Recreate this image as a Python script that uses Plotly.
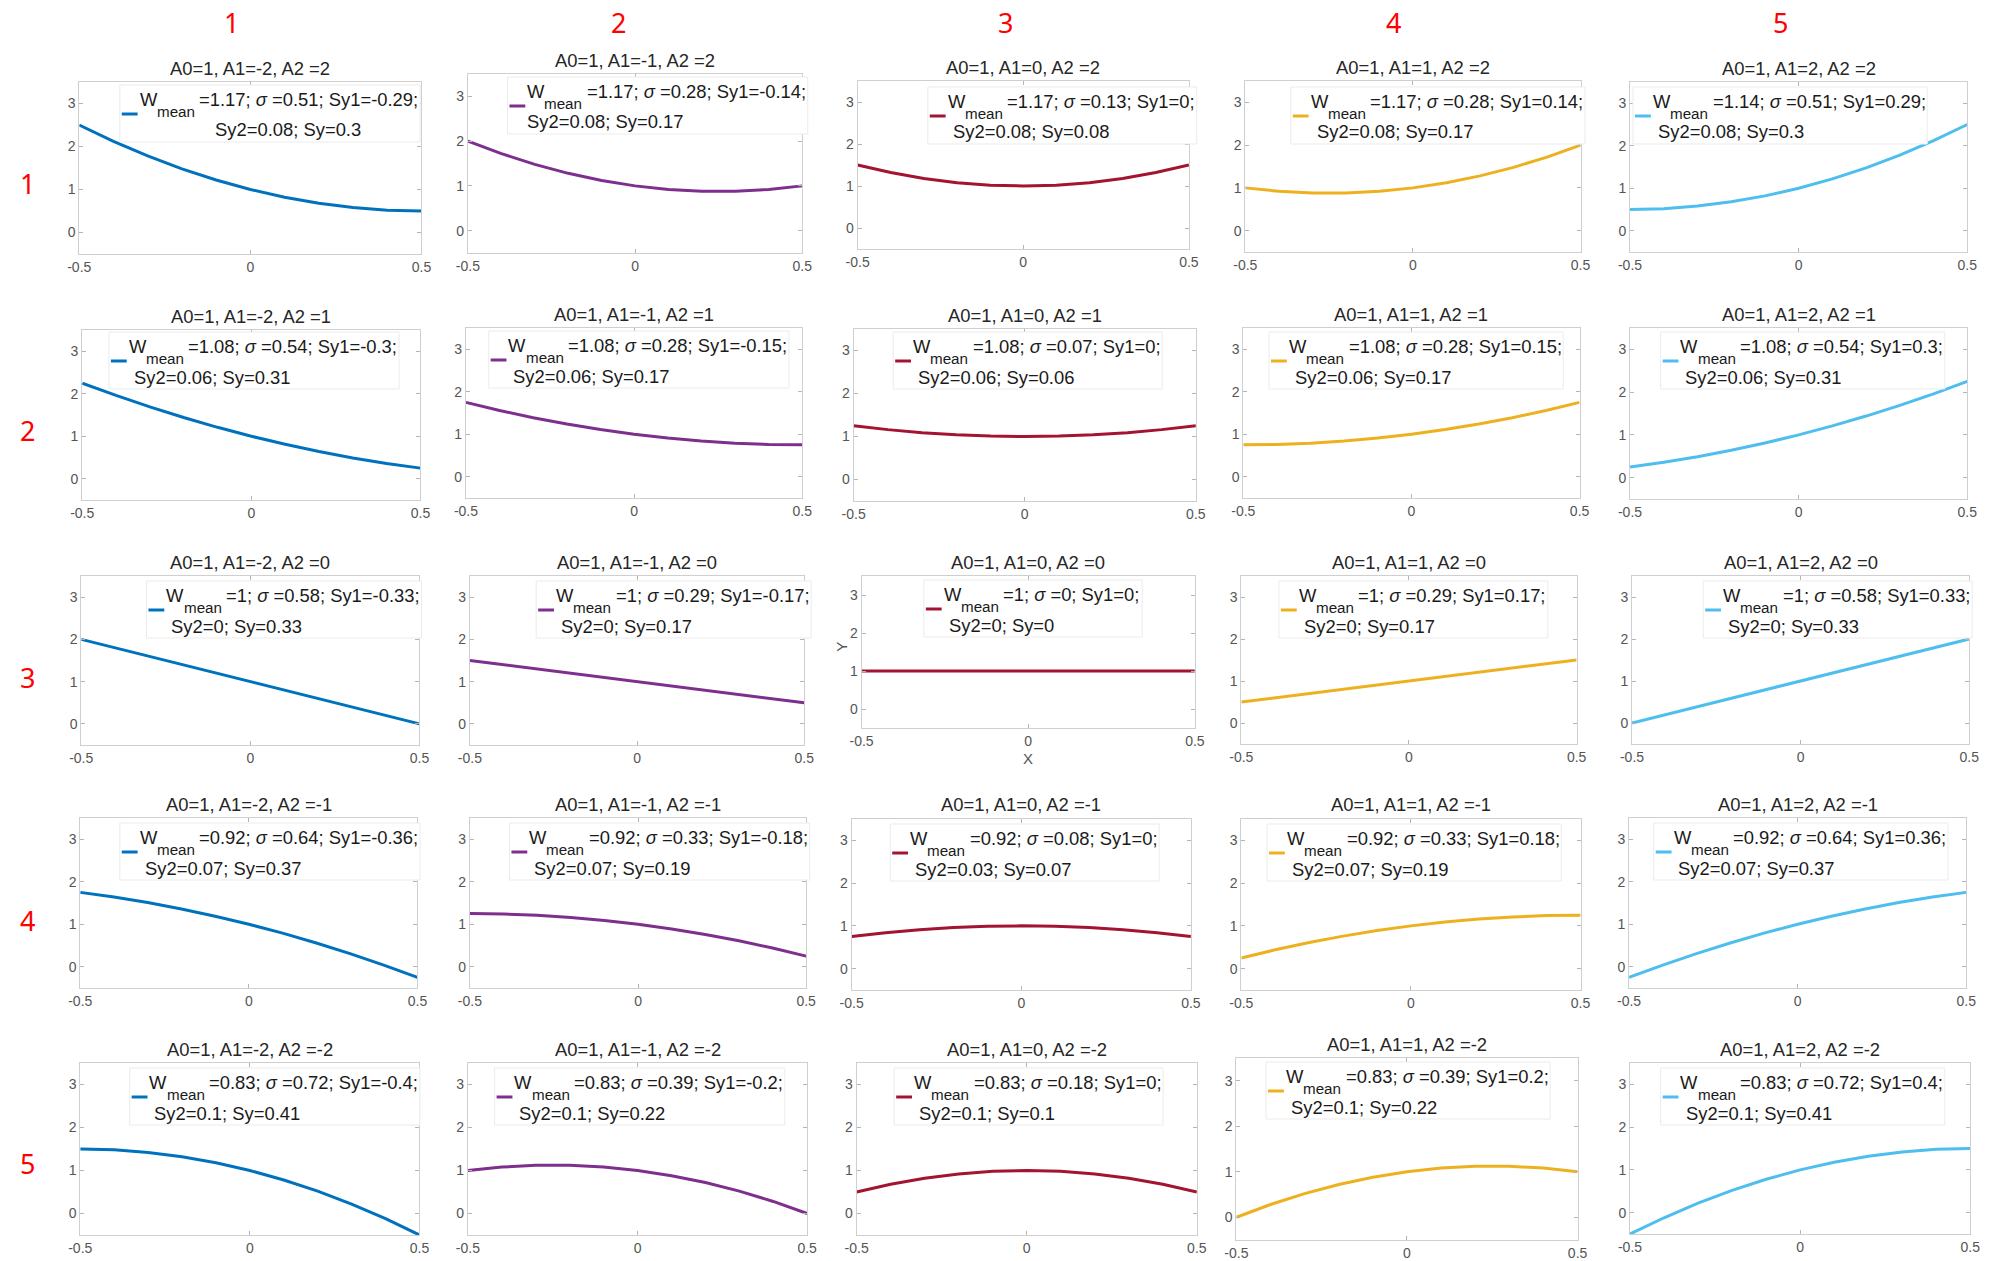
import re
import plotly.graph_objects as go

# ---------------------------------------------------------------- data
A0 = 1
A1_VALUES = [-2, -1, 0, 1, 2]          # one per column
A2_VALUES = [2, 1, 0, -1, -2]          # one per row
X_SAMPLES = [-0.5, -0.4, -0.3, -0.2, -0.1, 0.0, 0.1, 0.2, 0.3, 0.4, 0.5]

W_MEAN = [
    [1.17, 1.17, 1.17, 1.17, 1.14],
    [1.08, 1.08, 1.08, 1.08, 1.08],
    [1, 1, 1, 1, 1],
    [0.92, 0.92, 0.92, 0.92, 0.92],
    [0.83, 0.83, 0.83, 0.83, 0.83],
]
SIGMA = [
    [0.51, 0.28, 0.13, 0.28, 0.51],
    [0.54, 0.28, 0.07, 0.28, 0.54],
    [0.58, 0.29, 0, 0.29, 0.58],
    [0.64, 0.33, 0.08, 0.33, 0.64],
    [0.72, 0.39, 0.18, 0.39, 0.72],
]
SY1 = [
    [-0.29, -0.14, 0, 0.14, 0.29],
    [-0.3, -0.15, 0, 0.15, 0.3],
    [-0.33, -0.17, 0, 0.17, 0.33],
    [-0.36, -0.18, 0, 0.18, 0.36],
    [-0.4, -0.2, 0, 0.2, 0.4],
]
SY2 = [
    [0.08, 0.08, 0.08, 0.08, 0.08],
    [0.06, 0.06, 0.06, 0.06, 0.06],
    [0, 0, 0, 0, 0],
    [0.07, 0.07, 0.03, 0.07, 0.07],
    [0.1, 0.1, 0.1, 0.1, 0.1],
]
SY = [
    [0.3, 0.17, 0.08, 0.17, 0.3],
    [0.31, 0.17, 0.06, 0.17, 0.31],
    [0.33, 0.17, 0, 0.17, 0.33],
    [0.37, 0.19, 0.07, 0.19, 0.37],
    [0.41, 0.22, 0.1, 0.22, 0.41],
]
GRID_LABELS = ["1", "2", "3", "4", "5"]

# ---------------------------------------------------------------- style / layout
COLORS = ["#0072BD", "#7E2F8E", "#A2142F", "#EDB120", "#4DBEEE"]
W, H = 2002, 1261
FONT = "Liberation Sans, Arial, Helvetica, sans-serif"
TXT = 18.4
SUBTXT = 15.2

# panel boxes in page pixels: (left, right, top, bottom)
PANEL_BOX = [
    [(68, 414, 82, 254), (461, 799, 74, 253), (855, 1190, 81, 249), (1247, 1586, 81, 252), (1636, 1977, 82, 252)],
    [(71, 413, 330, 500), (459, 799, 328, 498), (851, 1197, 329, 501), (1245, 1585, 328, 498), (1636, 1977, 328, 499)],
    [(70, 412, 576, 745), (463, 801, 576, 745), (859, 1196, 576, 728), (1243, 1582, 576, 744), (1638, 1979, 576, 744)],
    [(69, 410, 818, 988), (463, 803, 818, 988), (849, 1192, 819, 990), (1243, 1586, 819, 990), (1635, 1976, 818, 988)],
    [(69, 412, 1063, 1235), (461, 804, 1063, 1235), (854, 1198, 1063, 1235), (1238, 1583, 1058, 1240), (1636, 1980, 1063, 1234)],
]
# legend placement inside each panel: sample offset from panel left, box offset from panel top
LEG_DX = [[43, 42, 73, 48, 5], [29, 25, 42, 28, 33], [68, 69, 65, 40, 74],
          [42, 42, 41, 28, 27], [52, 29, 40, 32, 33]]
LEG_DY = [[3, 3, 6, 6, 5], [2, 3, 3, 4, 4], [5, 5, 4, 5, 5],
          [5, 5, 5, 5, 5], [5, 5, 5, 4, 5]]
LINE2_INDENT = [[76, 0, 5, 6, 5], [5, 5, 5, 6, 5], [5, 5, 5, 5, 5],
                [5, 5, 5, 5, 5], [5, 5, 5, 5, 6]]

COL_LABEL_X = [222, 613, 1005, 1397, 1788]
ROW_LABEL_Y = [183, 430, 677, 920, 1163]

# Arial advance widths (em) for estimating legend box widths
EM = {c: 0.556 for c in "0123456789"}
EM.update({".": 0.278, ";": 0.278, " ": 0.278, "=": 0.584, "-": 0.333,
           "S": 0.667, "y": 0.5, "σ": 0.6, ",": 0.278})


def text_width(s, size):
    plain = re.sub(r"<[^>]+>", "", s)
    return sum(EM.get(ch, 0.556) for ch in plain) * size


def px(x):
    return x / W


def py(y):
    return 1 - y / H


def fmt(v):
    return f"{v:g}"


fig = go.Figure()
layout_axes = {}
annotations = []
shapes = []

for r, a2 in enumerate(A2_VALUES):
    for c, a1 in enumerate(A1_VALUES):
        idx = r * 5 + c + 1
        sfx = "" if idx == 1 else str(idx)
        l, rt, t, b = PANEL_BOX[r][c]
        color = COLORS[c]

        y_vals = [A0 + a1 * x + a2 * x * x for x in X_SAMPLES]
        fig.add_trace(go.Scatter(
            x=X_SAMPLES, y=y_vals, mode="lines",
            line=dict(color=color, width=3),
            xaxis="x" + sfx, yaxis="y" + sfx,
            showlegend=False, hoverinfo="x+y",
        ))

        common = dict(
            showline=True, linecolor="#cfcfcf", linewidth=1, mirror="ticks",
            ticks="inside", ticklen=4, tickcolor="#b5b5b5", tickwidth=1,
            showgrid=False, zeroline=False,
            tickfont=dict(family=FONT, size=14, color="#555555"),
        )
        layout_axes["xaxis" + sfx] = dict(
            domain=[px(l), px(rt)], range=[-0.5, 0.5],
            tickvals=[-0.5, 0, 0.5], ticktext=["-0.5", "0", "0.5"],
            anchor="y" + sfx, **common)
        layout_axes["yaxis" + sfx] = dict(
            domain=[py(b), py(t)], range=[-0.5, 3.5],
            tickvals=[0, 1, 2, 3], ticktext=["0", "1", "2", "3"],
            anchor="x" + sfx, **common)

        # panel title
        annotations.append(dict(
            text=f"A0={A0}, A1={a1}, A2 ={a2}",
            x=px((l + rt) / 2), y=py(t - 14), xref="paper", yref="paper",
            xanchor="center", yanchor="middle", showarrow=False,
            font=dict(family=FONT, size=TXT, color="#262626")))

        # legend: sample line + two text lines inside a framed white box
        sl = l + LEG_DX[r][c]
        bt = t + LEG_DY[r][c]
        wx = sl + 17
        rest_x = wx + 17.4 + 38 + 5
        rest = (f"={fmt(W_MEAN[r][c])}; <i>σ</i> ={fmt(SIGMA[r][c])}; "
                f"Sy1={fmt(SY1[r][c])};")
        line2 = f"Sy2={fmt(SY2[r][c])}; Sy={fmt(SY[r][c])}"
        l2x = wx + LINE2_INDENT[r][c]
        box_r = max(rest_x + text_width(rest, TXT), l2x + text_width(line2, TXT)) + 5

        shapes.append(dict(
            type="rect", xref="paper", yref="paper",
            x0=px(sl - 2), x1=px(box_r), y0=py(bt + 57), y1=py(bt),
            line=dict(color="#ebebeb", width=1), fillcolor="white", layer="above"))
        shapes.append(dict(
            type="line", xref="paper", yref="paper",
            x0=px(sl), x1=px(sl + 16), y0=py(bt + 29), y1=py(bt + 29),
            line=dict(color=color, width=3), layer="above"))

        tfont = dict(family=FONT, size=TXT, color="#1a1a1a")
        annotations.append(dict(
            text="W", x=px(wx), y=py(bt + 14.5), xref="paper", yref="paper",
            xanchor="left", yanchor="middle", showarrow=False, borderpad=0,
            font=tfont))
        annotations.append(dict(
            text="mean", x=px(wx + 17.4), y=py(bt + 26.7), xref="paper", yref="paper",
            xanchor="left", yanchor="middle", showarrow=False, borderpad=0,
            font=dict(family=FONT, size=SUBTXT, color="#1a1a1a")))
        annotations.append(dict(
            text=rest, x=px(rest_x), y=py(bt + 14.5), xref="paper", yref="paper",
            xanchor="left", yanchor="middle", showarrow=False, borderpad=0,
            font=tfont))
        annotations.append(dict(
            text=line2, x=px(l2x), y=py(bt + 45), xref="paper", yref="paper",
            xanchor="left", yanchor="middle", showarrow=False, borderpad=0,
            font=tfont))

# axis labels on the centre panel
annotations.append(dict(
    text="Y", x=px(839), y=py(647), xref="paper", yref="paper", textangle=-90,
    showarrow=False, xanchor="center", yanchor="middle",
    font=dict(family=FONT, size=15, color="#555555")))
annotations.append(dict(
    text="X", x=px(1027), y=py(758), xref="paper", yref="paper",
    showarrow=False, xanchor="center", yanchor="middle",
    font=dict(family=FONT, size=15, color="#555555")))

# red column / row indices
for i, lab in enumerate(GRID_LABELS):
    annotations.append(dict(
        text=lab, x=px(COL_LABEL_X[i]), y=py(22), xref="paper", yref="paper",
        showarrow=False, xanchor="center", yanchor="middle",
        font=dict(family="Noto Sans, sans-serif", size=27, color="#FF0000")))
    annotations.append(dict(
        text=lab, x=px(16), y=py(ROW_LABEL_Y[i]), xref="paper", yref="paper",
        showarrow=False, xanchor="center", yanchor="middle",
        font=dict(family="Noto Sans, sans-serif", size=27, color="#FF0000")))

fig.update_layout(
    width=W, height=H,
    margin=dict(l=0, r=0, t=0, b=0),
    paper_bgcolor="white", plot_bgcolor="white",
    showlegend=False,
    annotations=annotations,
    shapes=shapes,
    **layout_axes,
)

fig.write_html("out.html")
